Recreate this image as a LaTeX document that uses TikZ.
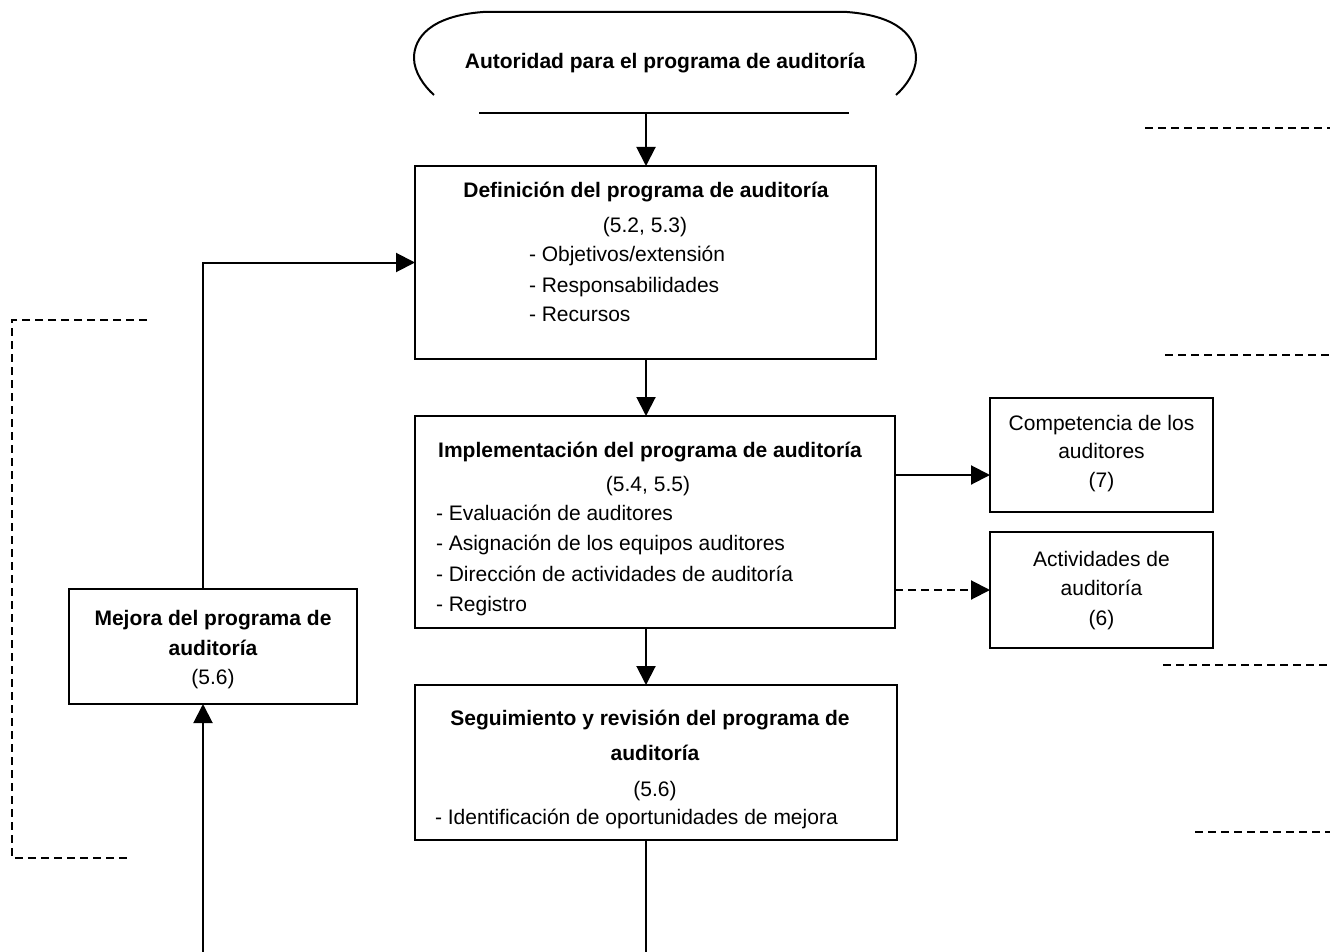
\documentclass[tikz,border=0pt]{standalone}
\usepackage{fontspec}
\setmainfont{Liberation Sans}
\usetikzlibrary{arrows.meta}
\begin{document}
\begin{tikzpicture}[x=1pt,y=-1pt,
  line width=2pt,
  every node/.style={font=\fontsize{21}{25}\selectfont, inner sep=0pt, outer sep=0pt},
  boxnode/.style={draw, rectangle, line width=2pt},
  arr/.style={-{Triangle[length=19pt,width=19pt]}},
  dline/.style={dash pattern=on 8pt off 5pt, line width=1.8pt},
  ctext/.style={anchor=base},
  ltext/.style={anchor=base west},
  btext/.style={anchor=base, font=\fontsize{21}{25}\selectfont\bfseries}
]
\useasboundingbox (0,0) rectangle (1330,952);

% top open rounded shape
\draw (434,95) .. controls (424,86) and (414,72) .. (414,58)
  .. controls (414,38) and (430,16) .. (483,12) -- (847,12)
  .. controls (900,16) and (916,38) .. (916,58)
  .. controls (916,72) and (906,86) .. (896,95);
\draw (479,113) -- (849,113);
\node[btext] (auth) at (665,69) {Autoridad para el programa de auditoría};
\coordinate (tb) at (646,113);

% boxes
\node[boxnode, minimum width=461pt, minimum height=193pt] (def) at (645.5,262.5) {};
\node[boxnode, minimum width=480pt, minimum height=212pt] (impl) at (655,522) {};
\node[boxnode, minimum width=482pt, minimum height=155pt] (seg) at (656,762.5) {};
\node[boxnode, minimum width=288pt, minimum height=115pt] (mej) at (213,646.5) {};
\node[boxnode, minimum width=223pt, minimum height=114pt] (comp) at (1101.5,455) {};
\node[boxnode, minimum width=223pt, minimum height=116pt] (activ) at (1101.5,590) {};

% texts box 1
\node[btext] (t1) at (646,198) {Definición del programa de auditoría};
\node[ctext] (t2) at (645,233) {(5.2, 5.3)};
\node[ltext] (t3) at (529,261) {- Objetivos/extensión};
\node[ltext] (t4) at (529,292) {- Responsabilidades};
\node[ltext] (t5) at (529,321) {- Recursos};

% texts box 2
\node[btext] (u1) at (650,457) {Implementación del programa de auditoría};
\node[ctext] (u2) at (648,491) {(5.4, 5.5)};
\node[ltext] (u3) at (436,520) {- Evaluación de auditores};
\node[ltext] (u4) at (436,550) {- Asignación de los equipos auditores};
\node[ltext] (u5) at (436,581) {- Dirección de actividades de auditoría};
\node[ltext] (u6) at (436,611) {- Registro};

% texts box 3
\node[btext] (s1) at (650,725) {Seguimiento y revisión del programa de};
\node[btext] (s2) at (655,760) {auditoría};
\node[ctext] (s3) at (655,796) {(5.6)};
\node[ltext] (s4) at (435,824) {- Identificación de oportunidades de mejora};

% texts mejora
\node[btext] (m1) at (213,625) {Mejora del programa de};
\node[btext] (m2) at (213,655) {auditoría};
\node[ctext] (m3) at (213,684) {(5.6)};

% texts competencia / actividades
\node[ctext] (c1) at (1101.5,430) {Competencia de los};
\node[ctext] (c2) at (1101.5,458) {auditores};
\node[ctext] (c3) at (1101.5,487) {(7)};
\node[ctext] (a1) at (1101.5,566) {Actividades de};
\node[ctext] (a2) at (1101.5,595) {auditoría};
\node[ctext] (a3) at (1101.5,625) {(6)};

% connectors
\coordinate (segend) at (646,952);
\coordinate (mejend) at (203,952);
\draw[arr] (tb) -- (tb |- def.north);
\draw[arr] (tb |- def.south) -- (tb |- impl.north);
\draw[arr] (tb |- impl.south) -- (tb |- seg.north);
\draw (segend |- seg.south) -- (segend);
\draw[arr] (mejend) -- (mejend |- mej.south);
\draw[arr] (mejend |- mej.north) |- (def.west);
\draw[arr] ([yshift=47pt]impl.east) -- ([yshift=47pt]impl.east -| comp.west);
\draw[arr, dash pattern=on 8pt off 5pt] (activ.west -| impl.east) -- (activ.west);

% dashed bracket left
\coordinate (lb1) at (147,320);
\coordinate (lb2) at (12,320);
\coordinate (lb3) at (12,858);
\coordinate (lb4) at (128,858);
\draw[dline] (lb1) -- (lb2) -- (lb3) -- (lb4);

% dashed lines right
\coordinate (r1) at (1145,128);
\coordinate (r2) at (1165,355);
\coordinate (r3) at (1163,665);
\coordinate (r4) at (1195,832);
\draw[dline] (r1) -- (r1 -| 1330,0);
\draw[dline] (r2) -- (r2 -| 1330,0);
\draw[dline] (r3) -- (r3 -| 1330,0);
\draw[dline] (r4) -- (r4 -| 1330,0);
\end{tikzpicture}
\end{document}
